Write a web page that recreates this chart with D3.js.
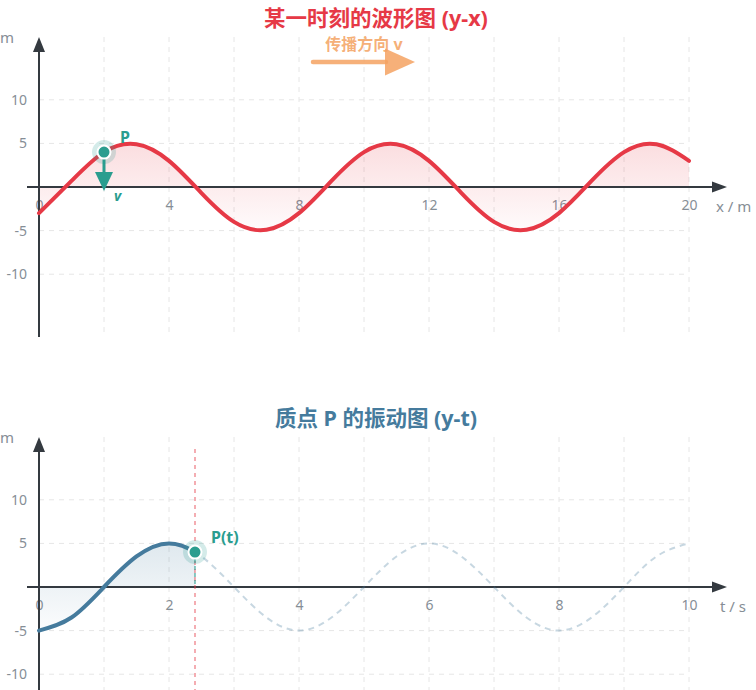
<!DOCTYPE html>
<html>
<head>
<meta charset="utf-8">
<script src="https://cdn.jsdelivr.net/npm/d3@7"></script>
<style>
    body { margin: 0; background: #ffffff; }
    svg text { font-family: "Noto Sans", "Noto Sans CJK SC", sans-serif; }
</style>
</head>
<body>
<div id="chart"></div>
<script>
// waveform y(x) at the current moment (t = 2.4 s)
var waveX = [0, 1, 2, 3, 4, 5, 6, 7, 8, 9, 10, 11, 12, 13, 14, 15, 16, 17, 18, 19, 20];
var waveY = [-3.0, 0.7, 4.0, 4.9, 3.0, -0.7, -4.0, -4.9, -3.0, 0.7, 4.0, 4.9, 3.0, -0.7, -4.0, -4.9, -3.0, 0.7, 4.0, 4.9, 3.0];

// vibration of point P, y(t)
var timeT = [0, 0.5, 1, 1.5, 2, 2.5, 3, 3.5, 4, 4.5, 5, 5.5, 6, 6.5, 7, 7.5, 8, 8.5, 9, 9.5, 10];
var vibY = [-5, -3.5, 0, 3.5, 5, 3.5, 0, -3.5, -5, -3.5, 0, 3.5, 5, 3.5, 0, -3.5, -5, -3.5, 0, 3.5, 5];

var nowT = 2.4;
var pointX = 2;
var pointY = 4.0;

var xTicks = [0, 4, 8, 12, 16, 20];
var xGrid = [2, 4, 6, 8, 10, 12, 14, 16, 18, 20];
var tTicks = [0, 2, 4, 6, 8, 10];
var tGrid = [1, 2, 3, 4, 5, 6, 7, 8, 9, 10];
var yTicks = [-10, -5, 5, 10];
var yExtent = 17.2;

var red = '#e63946',
    blue = '#457b9d',
    teal = '#2a9d8f',
    orange = '#f4a261',
    axisColor = '#343a40',
    labelColor = '#868e96',
    gridColor = '#e6e6e6';

var width = 756, height = 690;

var svg = d3.select('#chart').append('svg')
    .attr('width', width)
    .attr('height', height);

var defs = svg.append('defs');

function gradient(id, color, y1, y2) {
    var lg = defs.append('linearGradient')
        .attr('id', id)
        .attr('gradientUnits', 'userSpaceOnUse')
        .attr('x1', 0).attr('x2', 0)
        .attr('y1', y1).attr('y2', y2);
    lg.append('stop').attr('offset', 0).attr('stop-color', color).attr('stop-opacity', 0.17);
    lg.append('stop').attr('offset', 1).attr('stop-color', color).attr('stop-opacity', 0.02);
}

// common frame: grid and tick labels
function panel(top, x, tickVals, gridVals) {
    var y = d3.scaleLinear().domain([-yExtent, yExtent]).range([top + 300, top]);
    var g = svg.append('g');
    var xMax = x.domain()[1];

    g.selectAll('.vgrid')
        .data(gridVals)
        .enter().append('line')
        .attr('x1', function (d) { return x(d); })
        .attr('x2', function (d) { return x(d); })
        .attr('y1', y(yExtent))
        .attr('y2', y(-yExtent) - 5)
        .attr('stroke', gridColor)
        .attr('stroke-width', 1)
        .attr('stroke-dasharray', '5,5');

    g.selectAll('.hgrid')
        .data(yTicks)
        .enter().append('line')
        .attr('x1', x(0))
        .attr('x2', x(xMax))
        .attr('y1', function (d) { return y(d); })
        .attr('y2', function (d) { return y(d); })
        .attr('stroke', gridColor)
        .attr('stroke-width', 1)
        .attr('stroke-dasharray', '5,5');

    var xAxis = g.append('g')
        .attr('transform', 'translate(0,' + y(0) + ')')
        .call(d3.axisBottom(x).tickValues(tickVals).tickSize(0).tickPadding(13).tickFormat(String));
    xAxis.select('.domain').remove();

    var yAxis = g.append('g')
        .attr('transform', 'translate(' + x(0) + ',0)')
        .call(d3.axisLeft(y).tickValues(yTicks).tickSize(0).tickPadding(12).tickFormat(String));
    yAxis.select('.domain').remove();

    g.selectAll('.tick text')
        .style('font-size', '14px')
        .style('fill', labelColor);

    return { g: g, y: y };
}

function axes(g, x, y) {
    var x0 = x(0), y0 = y(0), xEnd = x.range()[1] + 38, yEnd = y(yExtent);
    g.append('line')
        .attr('x1', x0 - 12).attr('x2', xEnd - 14)
        .attr('y1', y0).attr('y2', y0)
        .attr('stroke', axisColor).attr('stroke-width', 2);
    g.append('path')
        .attr('d', 'M' + xEnd + ',' + y0 + 'L' + (xEnd - 15) + ',' + (y0 - 5.5) + 'L' + (xEnd - 15) + ',' + (y0 + 5.5) + 'Z')
        .attr('fill', axisColor);
    g.append('line')
        .attr('x1', x0).attr('x2', x0)
        .attr('y1', y(-yExtent)).attr('y2', yEnd + 14)
        .attr('stroke', axisColor).attr('stroke-width', 2);
    g.append('path')
        .attr('d', 'M' + x0 + ',' + yEnd + 'L' + (x0 - 6) + ',' + (yEnd + 15) + 'L' + (x0 + 6) + ',' + (yEnd + 15) + 'Z')
        .attr('fill', axisColor);
}

function marker(g, cx, cy) {
    g.append('circle')
        .attr('cx', cx).attr('cy', cy).attr('r', 12)
        .attr('fill', teal).attr('fill-opacity', 0.2);
    g.append('circle')
        .attr('cx', cx).attr('cy', cy).attr('r', 6.5)
        .attr('fill', teal)
        .attr('stroke', '#ffffff').attr('stroke-width', 2);
}

// ---------- top: waveform y-x ----------
var xTop = d3.scaleLinear().domain([0, 20]).range([39, 689]);
var topPanel = panel(37, xTop, xTicks, xGrid);
var yTop = topPanel.y;
var wave = waveX.map(function (d, i) { return { x: d, y: waveY[i] }; });

gradient('waveFill', red, yTop(5), yTop(-5));

topPanel.g.append('path')
    .datum(wave)
    .attr('d', d3.area()
        .x(function (d) { return xTop(d.x); })
        .y0(yTop(0))
        .y1(function (d) { return yTop(d.y); })
        .curve(d3.curveNatural))
    .attr('fill', 'url(#waveFill)');

axes(topPanel.g, xTop, yTop);

topPanel.g.append('path')
    .datum(wave)
    .attr('d', d3.line()
        .x(function (d) { return xTop(d.x); })
        .y(function (d) { return yTop(d.y); })
        .curve(d3.curveNatural))
    .attr('fill', 'none')
    .attr('stroke', red)
    .attr('stroke-width', 4)
    .attr('stroke-linecap', 'round');

// velocity of P (pointing down)
var px = xTop(pointX), py = yTop(pointY);
topPanel.g.append('line')
    .attr('x1', px).attr('x2', px)
    .attr('y1', py).attr('y2', py + 21)
    .attr('stroke', teal).attr('stroke-width', 3);
topPanel.g.append('path')
    .attr('d', 'M' + (px - 9) + ',' + (py + 20) + 'L' + (px + 9) + ',' + (py + 20) + 'L' + px + ',' + (py + 39) + 'Z')
    .attr('fill', teal);
marker(topPanel.g, px, py);

topPanel.g.append('text')
    .attr('x', px + 16).attr('y', py - 9)
    .text('P')
    .style('font-size', '16px').style('font-weight', 700).style('fill', teal);
topPanel.g.append('text')
    .attr('x', px + 10).attr('y', yTop(0) + 14)
    .text('v')
    .style('font-size', '14px').style('font-weight', 700).style('font-style', 'italic').style('fill', teal);

// propagation direction
var ax = xTop(10), ay = yTop(yExtent) + 25;
topPanel.g.append('line')
    .attr('x1', ax - 51).attr('x2', ax + 22)
    .attr('y1', ay).attr('y2', ay)
    .attr('stroke', orange).attr('stroke-opacity', 0.85)
    .attr('stroke-width', 4.5).attr('stroke-linecap', 'round');
topPanel.g.append('path')
    .attr('d', 'M' + (ax + 21) + ',' + (ay - 13.5) + 'L' + (ax + 51) + ',' + ay + 'L' + (ax + 21) + ',' + (ay + 13.5) + 'Z')
    .attr('fill', orange).attr('fill-opacity', 0.85);
topPanel.g.append('text')
    .attr('x', ax).attr('y', ay - 12)
    .attr('text-anchor', 'middle')
    .text('传播方向 v')
    .style('font-size', '16px').style('font-weight', 700)
    .style('fill', orange).style('fill-opacity', 0.85);

// ---------- bottom: vibration y-t ----------
var xBot = d3.scaleLinear().domain([0, 10]).range([39, 689]);
var botPanel = panel(437, xBot, tTicks, tGrid);
var yBot = botPanel.y;
var vib = timeT.map(function (d, i) { return { t: d, y: vibY[i] }; });

gradient('vibFill', blue, yBot(5), yBot(-5));

defs.append('clipPath').attr('id', 'past')
    .append('rect')
    .attr('x', 0).attr('y', 400)
    .attr('width', xBot(nowT)).attr('height', 400);
defs.append('clipPath').attr('id', 'future')
    .append('rect')
    .attr('x', xBot(nowT)).attr('y', 400)
    .attr('width', width).attr('height', 400);

var vibLine = d3.line()
    .x(function (d) { return xBot(d.t); })
    .y(function (d) { return yBot(d.y); })
    .curve(d3.curveNatural);

botPanel.g.append('path')
    .datum(vib)
    .attr('clip-path', 'url(#past)')
    .attr('d', d3.area()
        .x(function (d) { return xBot(d.t); })
        .y0(yBot(0))
        .y1(function (d) { return yBot(d.y); })
        .curve(d3.curveNatural))
    .attr('fill', 'url(#vibFill)');

axes(botPanel.g, xBot, yBot);

botPanel.g.append('path')
    .datum(vib)
    .attr('clip-path', 'url(#future)')
    .attr('d', vibLine)
    .attr('fill', 'none')
    .attr('stroke', blue).attr('stroke-opacity', 0.3)
    .attr('stroke-width', 2)
    .attr('stroke-dasharray', '6,5');

botPanel.g.append('line')
    .attr('x1', xBot(nowT)).attr('x2', xBot(nowT))
    .attr('y1', yBot(yExtent) + 12).attr('y2', height)
    .attr('stroke', red).attr('stroke-opacity', 0.55)
    .attr('stroke-width', 1.5)
    .attr('stroke-dasharray', '4,4');
botPanel.g.append('line')
    .attr('x1', xBot(nowT)).attr('x2', xBot(nowT))
    .attr('y1', yBot(pointY)).attr('y2', yBot(0))
    .attr('stroke', teal).attr('stroke-opacity', 0.7)
    .attr('stroke-width', 1.5)
    .attr('stroke-dasharray', '4,3');

botPanel.g.append('path')
    .datum(vib)
    .attr('clip-path', 'url(#past)')
    .attr('d', vibLine)
    .attr('fill', 'none')
    .attr('stroke', blue)
    .attr('stroke-width', 4)
    .attr('stroke-linecap', 'round');

var qx = xBot(nowT), qy = yBot(pointY);
marker(botPanel.g, qx, qy);
botPanel.g.append('text')
    .attr('x', qx + 16).attr('y', qy - 9)
    .text('P(t)')
    .style('font-size', '16px').style('font-weight', 700).style('fill', teal);

// titles and unit labels
svg.append('text')
    .attr('x', 376).attr('y', 26)
    .attr('text-anchor', 'middle')
    .text('某一时刻的波形图 (y-x)')
    .style('font-size', '21.5px').style('font-weight', 700).style('fill', red);
svg.append('text')
    .attr('x', 376).attr('y', 426)
    .attr('text-anchor', 'middle')
    .text('质点 P 的振动图 (y-t)')
    .style('font-size', '21.5px').style('font-weight', 700).style('fill', blue);

[[yTop, 'x / m', 716], [yBot, 't / s', 720]].forEach(function (d) {
    svg.append('text')
        .attr('x', 14).attr('y', d[0](yExtent) + 6)
        .attr('text-anchor', 'end')
        .text('m')
        .style('font-size', '15px').style('fill', labelColor);
    svg.append('text')
        .attr('x', d[2]).attr('y', d[0](0) + 25)
        .text(d[1])
        .style('font-size', '15px').style('fill', labelColor);
});
</script>
</body>
</html>
